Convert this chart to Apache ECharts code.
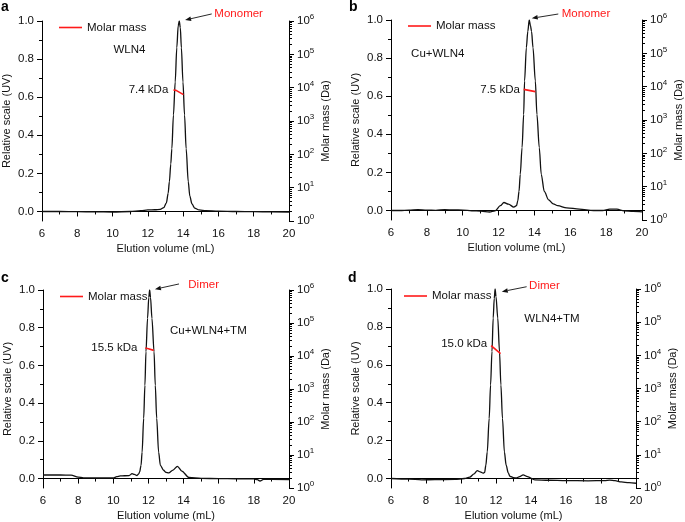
<!DOCTYPE html>
<html><head><meta charset="utf-8">
<script src="https://cdn.jsdelivr.net/npm/echarts@6/dist/echarts.min.js"></script>
<style>html,body{margin:0;padding:0;background:#fff}#c{width:685px;height:522px}</style>
</head><body><div id="c"></div>
<script>
// ---------- DATA ----------
// Panel a: WLN4
const aX = [6, 7, 8, 9, 10, 11, 11.6, 12.0, 12.4, 12.7, 12.9, 13.05, 13.15, 13.22, 13.3, 13.36, 13.45, 13.55, 13.64, 13.72, 13.78, 13.84, 13.9, 13.99, 14.08, 14.17, 14.29, 14.38, 14.5, 14.65, 14.9, 15.3, 16, 17, 18, 19, 20];
const aY = [0.0, 0.0, -0.001, -0.002, -0.003, 0.0, 0.004, 0.008, 0.009, 0.011, 0.02, 0.045, 0.095, 0.156, 0.25, 0.33, 0.506, 0.68, 0.86, 0.975, 1.0, 0.965, 0.86, 0.68, 0.506, 0.33, 0.156, 0.08, 0.04, 0.018, 0.008, 0.004, 0.002, 0.0, -0.001, -0.002, -0.003];
const aMassX = [13.45, 13.6, 14.02];
const aMassY = [8500, 8300, 6200];
// Panel b: Cu+WLN4
const bX = [6, 6.5, 7, 7.5, 8, 8.5, 9, 9.5, 10, 10.5, 11, 11.5, 11.8, 12.1, 12.3, 12.55, 12.85, 13.0, 13.07, 13.14, 13.21, 13.31, 13.4, 13.45, 13.55, 13.63, 13.71, 13.78, 13.84, 13.92, 14.05, 14.14, 14.27, 14.38, 14.55, 14.79, 15.05, 15.3, 15.8, 16.5, 17.3, 17.8, 18.2, 18.6, 19, 19.5, 20];
const bY = [0.0, 0.0, 0.002, 0.004, 0.002, 0.001, 0.004, 0.003, 0.002, -0.002, -0.003, -0.008, -0.002, 0.025, 0.042, 0.033, 0.018, 0.025, 0.05, 0.1, 0.19, 0.33, 0.504, 0.68, 0.855, 0.94, 1.0, 0.97, 0.94, 0.855, 0.68, 0.504, 0.33, 0.19, 0.1, 0.056, 0.035, 0.025, 0.014, 0.007, 0.0, 0.0, 0.007, 0.007, -0.002, -0.005, -0.007];
const bMassX = [13.40, 14.05];
const bMassY = [8300, 7100];
// Panel c: Cu+WLN4+TM
const cX = [6, 7, 7.6, 8.0, 8.3, 9, 10, 10.2, 10.4, 10.9, 11.07, 11.2, 11.35, 11.45, 11.5, 11.58, 11.64, 11.73, 11.8, 11.86, 11.95, 12.02, 12.07, 12.12, 12.2, 12.32, 12.39, 12.47, 12.58, 12.68, 12.86, 13.0, 13.15, 13.4, 13.65, 13.9, 14.3, 15, 16, 17, 18, 18.2, 18.35, 18.55, 19, 20];
const cY = [0.019, 0.019, 0.018, 0.008, 0.004, 0.003, 0.003, 0.01, 0.014, 0.016, 0.026, 0.022, 0.016, 0.025, 0.035, 0.07, 0.14, 0.32, 0.495, 0.672, 0.85, 0.96, 1.0, 0.96, 0.85, 0.672, 0.495, 0.32, 0.14, 0.07, 0.044, 0.033, 0.03, 0.045, 0.065, 0.04, 0.006, 0.001, 0.0, -0.001, -0.002, -0.006, -0.013, -0.004, -0.004, -0.005];
const cMassX = [11.82, 12.0, 12.3];
const cMassY = [17500, 16500, 14800];
// Panel d: WLN4+TM
const dX = [6, 7, 7.75, 8.5, 9.65, 10.2, 10.5, 10.75, 10.93, 11.1, 11.27, 11.35, 11.42, 11.5, 11.61, 11.69, 11.77, 11.84, 11.9, 11.95, 12.0, 12.1, 12.2, 12.28, 12.37, 12.48, 12.58, 12.7, 12.79, 13.0, 13.17, 13.35, 13.55, 13.8, 14.22, 15, 16, 17.26, 18.2, 18.5, 18.8, 19.16, 19.6, 20];
const dY = [0.0, -0.003, -0.007, -0.006, -0.005, 0.0, 0.007, 0.025, 0.042, 0.035, 0.028, 0.032, 0.07, 0.14, 0.317, 0.494, 0.67, 0.847, 0.95, 1.0, 0.96, 0.847, 0.67, 0.494, 0.317, 0.14, 0.07, 0.03, 0.012, 0.005, 0.003, 0.01, 0.019, 0.01, -0.007, -0.009, -0.011, -0.012, -0.011, -0.008, -0.011, -0.018, -0.022, -0.025];
const dMassX = [11.72, 12.26];
const dMassY = [19500, 11200];

const uvTickLabels = [0, 0.2, 0.4, 0.6, 0.8, 1.0];
const uvMinorTicks = [0.1, 0.3, 0.5, 0.7, 0.9];
const panelLetters = ['a', 'b', 'c', 'd'];
const sampleNames = ['WLN4', 'Cu+WLN4', 'Cu+WLN4+TM', 'WLN4+TM'];
const massLabels = ['7.4 kDa', '7.5 kDa', '15.5 kDa', '15.0 kDa'];
const speciesLabels = ['Monomer', 'Monomer', 'Dimer', 'Dimer'];
const xAxisName = 'Elution volume (mL)';
const leftAxisName = 'Relative scale (UV)';
const rightAxisName = 'Molar mass (Da)';
const legendName = 'Molar mass';

// ---------- LAYOUT / STYLE ----------
const FONT = '"Liberation Sans", Arial, Helvetica, sans-serif';
const grids = [
  {left: 42, top: 21, width: 247, height: 200},
  {left: 391, top: 20, width: 251, height: 200},
  {left: 43, top: 290, width: 246, height: 198},
  {left: 391, top: 289, width: 245, height: 199}
];
const legendPos = [{left: 59, top: 21.5}, {left: 408, top: 20}, {left: 60, top: 290.5}, {left: 404, top: 290}];
const letterPos = [{left: 1, top: 0}, {left: 349, top: 0}, {left: 1, top: 271}, {left: 348, top: 271}];
const annot = [
  {name: [10.05, 0.85], mass: [13.16, 0.638], species: [15.77, 1.04], arrow: [[15.62, 1.037], [14.11, 1.005]]},
  {name: [7.12, 0.82], mass: [13.19, 0.6325], species: [15.52, 1.035], arrow: [[15.33, 1.0315], [13.85, 1.009]]},
  {name: [13.23, 0.783], mass: [11.37, 0.694], species: [14.27, 1.027], arrow: [[13.74, 1.032], [12.37, 1.004]]},
  {name: [13.62, 0.84], mass: [11.5, 0.713], species: [13.89, 1.016], arrow: [[13.75, 1.012], [12.33, 0.986]]}
];
const uvSeries = [[aX, aY], [bX, bY], [cX, cY], [dX, dY]];
const massSeries = [[aMassX, aMassY], [bMassX, bMassY], [cMassX, cMassY], [dMassX, dMassY]];

const logMinor = [];
for (let n = 0; n < 6; n++) for (let k = 2; k <= 9; k++) logMinor.push(n + Math.log10(k));

const axisLineStyle = {show: true, lineStyle: {color: '#000', width: 1}};
const labelStyle = {color: '#111', fontSize: 11.5, fontFamily: FONT};
const nameStyle = {color: '#111', fontSize: 11, fontFamily: FONT};
const zip = (xs, ys) => xs.map((x, i) => [x, ys[i]]);

const option = {
  animation: false,
  backgroundColor: '#fff',
  title: panelLetters.map((t, i) => ({text: t, left: letterPos[i].left, top: letterPos[i].top, padding: 0,
    textStyle: {fontSize: 14, fontWeight: 'bold', color: '#000', fontFamily: FONT}})),
  legend: grids.map((g, i) => ({data: [legendName], left: legendPos[i].left, top: legendPos[i].top, padding: 0,
    icon: 'rect', itemWidth: 23, itemHeight: 1.6, itemGap: 5, selectedMode: false,
    textStyle: {color: '#111', fontSize: 11.5, fontFamily: FONT, padding: [0, 0, 0, 0]}})),
  grid: grids.map(g => Object.assign({outerBoundsMode: 'none', containLabel: false}, g)),
  xAxis: grids.map((g, i) => ({
    type: 'value', gridIndex: i, min: 6, max: 20, interval: 2,
    name: xAxisName, nameLocation: 'middle', nameGap: 22, nameTextStyle: nameStyle,
    axisLine: axisLineStyle, axisTick: {show: true, length: 5, lineStyle: {color: '#000'}},
    minorTick: {show: true, splitNumber: 2, length: 3, lineStyle: {color: '#000'}},
    splitLine: {show: false}, minorSplitLine: {show: false},
    axisLabel: Object.assign({margin: 7}, labelStyle)
  })),
  yAxis: [],
  series: []
};

grids.forEach((g, i) => {
  option.yAxis.push({
    type: 'value', gridIndex: i, position: 'left', min: -0.05, max: 1.0,
    name: leftAxisName, nameLocation: 'middle', nameGap: 30, nameTextStyle: nameStyle,
    axisLine: axisLineStyle, splitLine: {show: false},
    axisTick: {show: true, length: 5, customValues: uvTickLabels, lineStyle: {color: '#000'}},
    axisLabel: Object.assign({customValues: uvTickLabels, formatter: v => v.toFixed(1), margin: 8}, labelStyle)
  });
  option.yAxis.push({
    type: 'value', gridIndex: i, position: 'left', min: -0.05, max: 1.0,
    axisLine: {show: false}, splitLine: {show: false}, axisLabel: {show: false},
    axisTick: {show: true, length: 3, customValues: uvMinorTicks, lineStyle: {color: '#000'}}
  });
  option.yAxis.push({
    type: 'log', logBase: 10, gridIndex: i, position: 'right', min: 1, max: 1e6,
    name: rightAxisName, nameLocation: 'middle', nameGap: 31, nameTextStyle: nameStyle,
    axisLine: axisLineStyle, splitLine: {show: false},
    axisTick: {show: true, length: 5, lineStyle: {color: '#000'}},
    axisLabel: Object.assign({margin: 8,
      formatter: v => '{b|10}{s|' + Math.round(Math.log10(v)) + '}',
      rich: {b: {fontSize: 11.5, fontFamily: FONT, color: '#111', lineHeight: 16, verticalAlign: 'middle'},
             s: {fontSize: 8, fontFamily: FONT, color: '#111', lineHeight: 9, verticalAlign: 'top'}}}, labelStyle)
  });
  option.yAxis.push({
    type: 'value', gridIndex: i, position: 'right', min: 0, max: 6,
    axisLine: {show: false}, splitLine: {show: false}, axisLabel: {show: false},
    axisTick: {show: true, length: 3, customValues: logMinor, lineStyle: {color: '#000'}}
  });
  option.series.push({
    type: 'line', name: 'UV ' + sampleNames[i], xAxisIndex: i, yAxisIndex: 4 * i,
    data: zip(uvSeries[i][0], uvSeries[i][1]), showSymbol: false, symbol: 'none',
    smooth: 0.3, smoothMonotone: 'x', lineStyle: {color: '#111', width: 1.3}, z: 3
  });
  option.series.push({
    type: 'line', name: legendName, xAxisIndex: i, yAxisIndex: 4 * i + 2,
    data: zip(massSeries[i][0], massSeries[i][1]), showSymbol: false, symbol: 'none',
    color: '#ff1a1a', lineStyle: {color: '#ff1a1a', width: 1.6}, z: 4
  });
});

const chart = echarts.init(document.getElementById('c'), null, {renderer: 'canvas'});
chart.setOption(option);

// annotations placed through the chart's own scales
const graphics = [];
annot.forEach((an, i) => {
  const f = {xAxisIndex: i, yAxisIndex: 4 * i};
  const P = c => chart.convertToPixel(f, c);
  const txt = (pt, text, align, color) => {
    const p = P(pt);
    graphics.push({type: 'text', x: p[0], y: p[1], z: 10,
      style: {text: text, fontSize: 11.5, fontFamily: FONT, fill: color, align: align, verticalAlign: 'middle'}});
  };
  txt(an.name, sampleNames[i], 'left', '#111');
  txt(an.mass, massLabels[i], 'right', '#111');
  txt(an.species, speciesLabels[i], 'left', '#ff1a1a');
  const p0 = P(an.arrow[0]), p1 = P(an.arrow[1]);
  const dx = p1[0] - p0[0], dy = p1[1] - p0[1], L = Math.hypot(dx, dy);
  const ux = dx / L, uy = dy / L, vx = -uy, vy = ux;
  const hl = 6, hw = 2.3;
  const bx = p1[0] - hl * ux, by = p1[1] - hl * uy;
  graphics.push({type: 'line', z: 10, shape: {x1: p0[0], y1: p0[1], x2: bx, y2: by}, style: {stroke: '#111', lineWidth: 0.9}});
  graphics.push({type: 'polygon', z: 10, shape: {points: [[p1[0], p1[1]], [bx + hw * vx, by + hw * vy], [bx - hw * vx, by - hw * vy]]}, style: {fill: '#111'}});
});
chart.setOption({graphic: graphics});
</script>
</body></html>
